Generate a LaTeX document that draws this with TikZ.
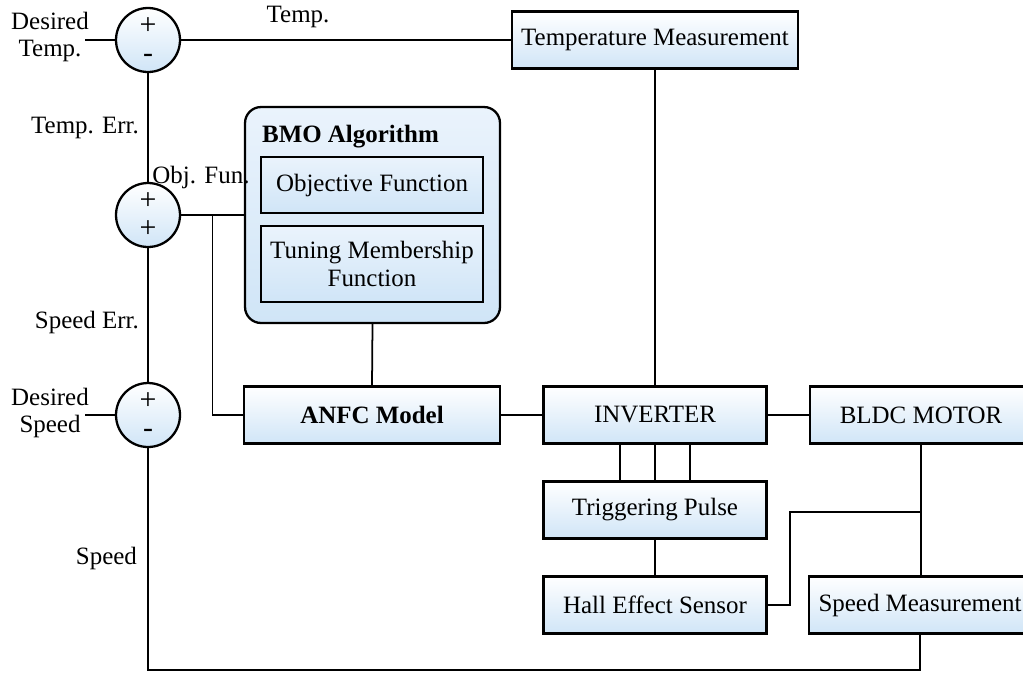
\documentclass[tikz,border=0pt]{standalone}
\usepackage{fontspec}
\setmainfont{Liberation Serif}
\usetikzlibrary{positioning,calc}
\definecolor{softblue}{RGB}{208,229,247}
\definecolor{paleblue}{RGB}{234,243,252}

\begin{document}
\begin{tikzpicture}[
    x=0.02cm, y=-0.02cm,
    every node/.style={font=\fontsize{14.2}{15.5}\selectfont},
    box/.style={draw, line width=1.3pt, top color=white, bottom color=softblue, minimum width=4.46cm, minimum height=1.14cm, align=center},
    bmobox/.style={draw, line width=1.3pt, rounded corners=0.32cm, top color=paleblue, bottom color=softblue, minimum width=5.1cm, minimum height=4.32cm},
    innerbox/.style={draw, line width=1pt, top color=paleblue, bottom color=softblue, minimum width=4.44cm, align=center},
    sumnode/.style={draw, circle, line width=1.3pt, top color=white, bottom color=softblue, minimum size=1.28cm, inner sep=0pt, align=center, font=\fontsize{17}{15.5}\selectfont},
    lbl/.style={align=center, inner sep=1pt},
    wire/.style={line width=1pt}
  ]
  \useasboundingbox (0,0) rectangle (1023,674);

  % summing junctions
  \node[sumnode] (tempsum) at (148,40) {+\\-};
  \node[sumnode] (errsum) at (148,215) {+\\+};
  \node[sumnode] (speedsum) at (148,415) {+\\-};

  % blocks
  \node[box, minimum width=5.72cm] (tempmeas) at (655,40) {Temperature Measurement};
  \node[bmobox] (bmo) at (372.5,215) {};
  \node[lbl, anchor=west, font=\fontsize{14.2}{15.5}\selectfont\bfseries] (bmotitle) at (260,137) {BMO Algorithm};
  \node[innerbox, minimum height=1.12cm] (objfun) at (372,185) {Objective Function};
  \node[innerbox, minimum height=1.52cm] (tuning) at (372,264) {Tuning Membership\\Function};
  \node[box, minimum width=5.12cm, font=\fontsize{14.2}{15.5}\selectfont\bfseries] (anfc) at (372,415) {ANFC Model};
  \node[box] (inverter) at (655,415) {INVERTER};
  \node[box, minimum width=4.44cm] (bldc) at (921,415) {BLDC MOTOR};
  \node[box] (trig) at (655,510) {Triggering Pulse};
  \node[box] (hall) at (655,605) {Hall Effect Sensor};
  \node[box, minimum width=4.44cm] (speedmeas) at (920,605) {Speed Measurement};

  % signal labels
  \node[lbl] (dtemp) at (50,37) {Desired\\Temp.};
  \node[lbl] (dspeed) at (50,413) {Desired\\Speed};
  \node[lbl] (templbl) at (298,17) {Temp.};
  \node[lbl, anchor=east] (terrlbl) at (141,128) {Temp. Err.};
  \node[lbl] (objlbl) at (201,177) {Obj. Fun.};
  \node[lbl, anchor=east] (serrlbl) at (141,322) {Speed Err.};
  \node[lbl, anchor=east] (speedlbl) at (139,558) {Speed};

  \coordinate (dtin) at (85,40);
  \coordinate (dsin) at (85,415);
  \coordinate (br) at ($(errsum.east)!0.5!(bmo.west)$);
  \coordinate (fb) at (148,670);
  \coordinate (tap) at (bldc.south |- 0,512);

  % connections
  \draw[wire] (dtin) -- (tempsum.west);
  \draw[wire] (tempsum.east) -- (tempmeas.west);
  \draw[wire] (tempmeas.south) -- (inverter.north);
  \draw[wire] (tempsum.south) -- (errsum.north);
  \draw[wire] (errsum.east) -- (bmo.west);
  \draw[wire] (br) |- (anfc.west);
  \draw[wire] (errsum.south) -- (speedsum.north);
  \draw[wire] (dsin) -- (speedsum.west);
  \draw[wire] (bmo.south) -- (anfc.north);
  \draw[wire] (anfc.east) -- (inverter.west);
  \draw[wire] (inverter.east) -- (bldc.west);
  \foreach \dx in {-35,0,35}
    \draw[wire] ($(inverter.south)+(\dx,0)$) -- ($(trig.north)+(\dx,0)$);
  \draw[wire] (trig.south) -- (hall.north);
  \draw[wire] (bldc.south) -- (speedmeas.north -| bldc.south);
  \draw[wire] (hall.east) -- ++(22,0) |- (tap);
  \draw[wire] (speedsum.south) -- (fb) -| (speedmeas.south);
\end{tikzpicture}
\end{document}
